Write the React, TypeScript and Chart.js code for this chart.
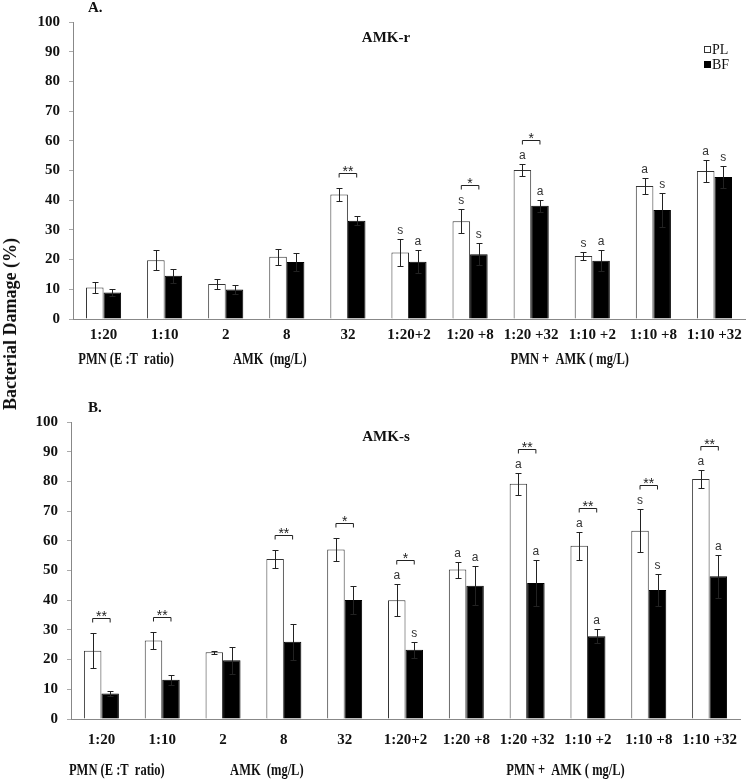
import React, { useEffect, useRef } from "react";
import { Chart, registerables } from "chart.js";

Chart.register(...registerables);

const categories = ["1:20", "1:10", "2", "8", "32", "1:20+2", "1:20 +8", "1:20 +32", "1:10 +2", "1:10 +8", "1:10 +32"];

// Panel A (AMK-r)
const plA = [10.6, 19.8, 11.8, 21.0, 41.9, 22.4, 32.9, 50.2, 21.2, 44.8, 49.8];
const plAErr = [2.0, 3.3, 1.8, 2.7, 2.3, 4.5, 4.0, 2.1, 1.5, 2.8, 3.6];
const bfA = [8.9, 14.6, 9.9, 19.2, 33.1, 19.3, 21.8, 38.1, 19.6, 36.7, 47.8];
const bfAErr = [1.2, 2.4, 1.4, 2.9, 1.5, 3.9, 3.7, 2.1, 3.6, 5.6, 3.7];
const plALetters = ["", "", "", "", "", "s", "s", "a", "s", "a", "a"];
const bfALetters = ["", "", "", "", "", "a", "s", "a", "a", "s", "s"];
const sigA = ["", "", "", "", "**", "", "*", "*", "", "", ""];

// Panel B (AMK-s)
const plB = [23.0, 26.4, 22.5, 53.9, 57.1, 40.0, 50.3, 79.2, 58.3, 63.4, 80.8];
const plBErr = [5.8, 2.8, 0.5, 3.0, 4.0, 5.4, 2.7, 3.7, 4.7, 7.2, 2.9];
const bfB = [8.6, 13.2, 19.8, 26.0, 40.1, 23.3, 44.9, 45.8, 27.9, 43.4, 48.1];
const bfBErr = [0.9, 1.7, 4.5, 6.0, 4.6, 2.6, 6.5, 7.9, 2.4, 5.5, 7.2];
const plBLetters = ["", "", "", "", "", "a", "a", "a", "a", "s", "a"];
const bfBLetters = ["", "", "", "", "", "s", "a", "a", "a", "s", "a"];
const sigB = ["**", "**", "", "**", "*", "*", "", "**", "**", "**", "**"];

const yTicks = [0, 10, 20, 30, 40, 50, 60, 70, 80, 90, 100];
const groupLabels = ["PMN (E :T  ratio)", "AMK  (mg/L)", "PMN +  AMK ( mg/L)"];
const seriesNames = ["PL", "BF"];

const SERIF = '"Liberation Serif", "Times New Roman", serif';
const SANS = '"Liberation Sans", Arial, sans-serif';

type PanelCfg = {
  pl: number[]; plErr: number[]; bf: number[]; bfErr: number[];
  plLetters: string[]; bfLetters: string[]; sig: string[];
  panel: string; title: string; titleY: number; panelY: number; groupY: number;
  showLegend: boolean; yw: number; xh: number; padTop: number; padRight: number; tickPad: number;
  groupOffsets: number[];
};

function annotPlugin(cfg: PanelCfg) {
  return {
    id: "annot" + cfg.panel,
    afterDatasetsDraw(chart: any) {
      const ctx = chart.ctx;
      const y = chart.scales.y;
      const m0 = chart.getDatasetMeta(0);
      const m1 = chart.getDatasetMeta(1);
      ctx.save();
      ctx.strokeStyle = "#222";
      ctx.lineWidth = 1;
      const drawErr = (x: number, v: number, e: number) => {
        const yt = Math.round(y.getPixelForValue(v + e)) + 0.5;
        const yb = Math.round(y.getPixelForValue(v - e)) + 0.5;
        const xx = Math.round(x) + 0.5;
        ctx.beginPath();
        ctx.moveTo(xx, yt); ctx.lineTo(xx, yb);
        ctx.moveTo(xx - 3, yt); ctx.lineTo(xx + 3, yt);
        ctx.moveTo(xx - 3, yb); ctx.lineTo(xx + 3, yb);
        ctx.stroke();
        return yt;
      };
      categories.forEach((_, i) => {
        const x0 = m0.data[i].x;
        const x1 = m1.data[i].x;
        const t0 = drawErr(x0, cfg.pl[i], cfg.plErr[i]);
        const t1 = drawErr(x1, cfg.bf[i], cfg.bfErr[i]);
        ctx.fillStyle = "#333";
        ctx.font = "12px " + SANS;
        ctx.textAlign = "center";
        ctx.textBaseline = "bottom";
        if (cfg.plLetters[i]) ctx.fillText(cfg.plLetters[i], x0, t0 - 3);
        if (cfg.bfLetters[i]) ctx.fillText(cfg.bfLetters[i], x1, t1 - 3);
        if (cfg.sig[i]) {
          const hasLetters = cfg.plLetters[i] || cfg.bfLetters[i];
          const by = Math.round(Math.min(t0, t1) - (hasLetters ? 25 : 16)) + 0.5;
          ctx.beginPath();
          ctx.moveTo(x0, by + 4); ctx.lineTo(x0, by); ctx.lineTo(x1, by); ctx.lineTo(x1, by + 4);
          ctx.stroke();
          ctx.font = "14px " + SANS;
          ctx.textBaseline = "alphabetic";
          ctx.fillStyle = "#222";
          ctx.fillText(cfg.sig[i], (x0 + x1) / 2, by + 2);
        }
      });
      ctx.restore();
    },
    afterDraw(chart: any) {
      const ctx = chart.ctx;
      const xs = chart.scales.x;
      ctx.save();
      ctx.fillStyle = "#111";
      ctx.textBaseline = "middle";
      ctx.font = "bold 15px " + SERIF;
      ctx.textAlign = "left";
      ctx.fillText(cfg.panel, 88, cfg.panelY);
      ctx.textAlign = "center";
      ctx.fillText(cfg.title, 386, cfg.titleY);
      // group labels
      const spans = [[0, 1], [2, 4], [5, 10]];
      spans.forEach((sp, k) => {
        const cx = (xs.getPixelForValue(sp[0]) + xs.getPixelForValue(sp[1])) / 2 + cfg.groupOffsets[k];
        ctx.save();
        ctx.translate(cx, cfg.groupY);
        ctx.scale(0.78, 1);
        ctx.font = "bold 16px " + SERIF;
        ctx.textAlign = "center";
        ctx.fillText(groupLabels[k], 0, 0);
        ctx.restore();
      });
      if (cfg.showLegend) {
        ctx.font = "14px " + SERIF;
        ctx.textAlign = "left";
        const ly = [49, 64];
        seriesNames.forEach((n, k) => {
          if (k === 0) {
            ctx.fillStyle = "#fff";
            ctx.fillRect(704, ly[k] - 3, 7, 7);
            ctx.strokeStyle = "#333";
            ctx.strokeRect(704.5, ly[k] - 2.5, 6, 6);
          } else {
            ctx.fillStyle = "#000";
            ctx.fillRect(704, ly[k] - 3, 7, 7);
          }
          ctx.fillStyle = "#111";
          ctx.fillText(n, 712, ly[k] + 1);
        });
      }
      ctx.restore();
    },
  };
}

function makeChart(canvas: HTMLCanvasElement, cfg: PanelCfg) {
  return new Chart(canvas, {
    type: "bar",
    data: {
      labels: categories,
      datasets: [
        { label: seriesNames[0], data: cfg.pl, backgroundColor: "#ffffff", borderColor: "#333333", borderWidth: 1, categoryPercentage: 0.575, barPercentage: 1 },
        { label: seriesNames[1], data: cfg.bf, backgroundColor: "#000000", borderColor: "#000000", borderWidth: 1, categoryPercentage: 0.575, barPercentage: 1 },
      ],
    },
    options: {
      responsive: false,
      animation: false,
      devicePixelRatio: 1,
      layout: { padding: { left: 0, top: cfg.padTop, right: cfg.padRight, bottom: 0 } },
      plugins: { legend: { display: false }, tooltip: { enabled: false } },
      scales: {
        x: {
          grid: { display: false, drawTicks: false },
          border: { color: "#888" },
          ticks: { color: "#111", font: { family: SERIF, size: 15, weight: "bold" }, padding: cfg.tickPad, maxRotation: 0, autoSkip: false },
          afterFit: (s: any) => { s.height = cfg.xh; },
        },
        y: {
          min: 0,
          max: 100,
          afterBuildTicks: (s: any) => { s.ticks = yTicks.map((v) => ({ value: v })); },
          ticks: { color: "#111", font: { family: SERIF, size: 15, weight: "bold" }, padding: 9 },
          grid: { drawOnChartArea: false, tickLength: 4, color: "#aaa" },
          border: { color: "#888" },
          afterFit: (s: any) => { s.width = cfg.yw; },
        },
      },
    } as any,
    plugins: [annotPlugin(cfg)],
  });
}

export default function App() {
  const refA = useRef<HTMLCanvasElement>(null);
  const refB = useRef<HTMLCanvasElement>(null);
  useEffect(() => {
    const a = makeChart(refA.current!, {
      pl: plA, plErr: plAErr, bf: bfA, bfErr: bfAErr, plLetters: plALetters, bfLetters: bfALetters, sig: sigA,
      panel: "A.", title: "AMK-r", titleY: 38, panelY: 8, groupY: 360, showLegend: true,
      yw: 73, xh: 71, padTop: 22, padRight: 5, tickPad: 7, groupOffsets: [-8, -17, 8],
    });
    const b = makeChart(refB.current!, {
      pl: plB, plErr: plBErr, bf: bfB, bfErr: bfBErr, plLetters: plBLetters, bfLetters: bfBLetters, sig: sigB,
      panel: "B.", title: "AMK-s", titleY: 47, panelY: 18, groupY: 381, showLegend: false,
      yw: 71, xh: 64, padTop: 32, padRight: 10, tickPad: 12, groupOffsets: [-15, -17, 8],
    });
    return () => { a.destroy(); b.destroy(); };
  }, []);
  return (
    <div style={{ position: "absolute", left: 0, top: 0, width: 750, height: 783, background: "#fff", overflow: "hidden" }}>
      <canvas ref={refA} width={750} height={390} style={{ position: "absolute", left: 0, top: 0, display: "block" }} />
      <canvas ref={refB} width={750} height={393} style={{ position: "absolute", left: 0, top: 390, display: "block" }} />
      <div
        style={{
          position: "absolute", left: 10, top: 324, transform: "translate(-50%, -50%) rotate(-90deg)",
          whiteSpace: "nowrap", font: "bold 18px " + SERIF, color: "#111", lineHeight: "18px",
        }}
      >
        Bacterial Damage (%)
      </div>
    </div>
  );
}
